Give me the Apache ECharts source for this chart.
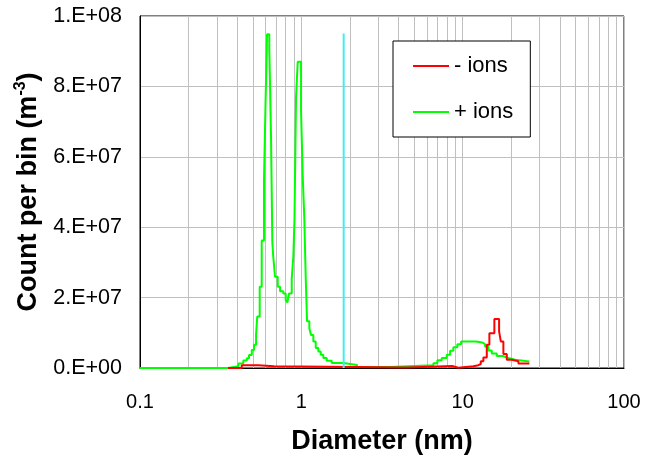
<!DOCTYPE html>
<html>
<head>
<meta charset="utf-8">
<script src="https://cdn.jsdelivr.net/npm/echarts@6/dist/echarts.min.js"></script>
<style>
html,body{margin:0;padding:0;background:#fff;}
#chart{width:645px;height:460px;}
</style>
</head>
<body>
<div id="chart"></div>
<script>
// ---- data ----
// step points: [diameter nm, count per bin] — value holds until next point
const plusIons = [
  [0.1, 0], [0.351, 4.8e5], [0.407, 1.3e6], [0.437, 2.1e6], [0.459, 2.8e6],
  [0.474, 3.7e6], [0.493, 5.1e6], [0.509, 6.6e6], [0.524, 9.4e6], [0.533, 1.46e7],
  [0.552, 2.31e7], [0.568, 3.62e7], [0.587, 5.34e7], [0.600, 7.53e7], [0.613, 9.48e7],
  [0.633, 9.10e7], [0.649, 6.55e7], [0.661, 3.58e7], [0.670, 3.16e7], [0.687, 2.59e7],
  [0.714, 2.31e7], [0.738, 2.18e7], [0.773, 2.12e7], [0.800, 1.93e7], [0.819, 1.86e7],
  [0.839, 2.12e7], [0.872, 2.54e7], [0.892, 3.16e7], [0.907, 4.24e7], [0.927, 7.68e7],
  [0.950, 8.70e7], [0.996, 7.29e7], [1.020, 5.45e7], [1.044, 4.21e7], [1.065, 2.54e7],
  [1.085, 1.33e7], [1.121, 1.13e7], [1.148, 9.4e6], [1.187, 7.5e6], [1.228, 5.65e6],
  [1.275, 4.7e6], [1.319, 3.76e6], [1.369, 2.83e6], [1.437, 2.06e6], [1.543, 1.41e6],
  [1.822, 8.5e5], [2.215, 2.8e5], [3.513, 7.6e5], [6.584, 1.33e6], [6.969, 2.18e6],
  [7.420, 2.83e6], [7.969, 3.76e6], [8.354, 4.89e6], [8.758, 5.93e6], [9.271, 6.78e6],
  [9.775, 7.54e6], [12.11, 7.26e6], [13.19, 6.78e6], [13.77, 6.13e6], [14.43, 4.94e6],
  [15.15, 4.10e6], [16.27, 3.39e6], [17.88, 2.83e6], [19.20, 2.34e6], [21.13, 1.84e6],
  [25.92, 1.84e6]
];
const minusIons = [
  [0.351, 0], [0.427, 7.6e5], [0.541, 4.8e5], [0.677, 1.4e5], [4.50, 5.6e5],
  [8.60, 6e4], [9.40, 5.0e5], [11.65, 8e5], [12.52, 1.13e6], [12.95, 1.89e6],
  [13.44, 2.97e6], [14.11, 6.58e6], [14.64, 9.89e6], [15.72, 1.39e7], [16.82, 1.04e7],
  [17.23, 7.54e6], [17.88, 3.96e6], [18.77, 2.34e6], [20.16, 1.89e6], [22.15, 1.27e6],
  [25.92, 1.27e6]
];
const cutLine = [[1.83, 0], [1.83, 9.5e7]];
const seriesNames = ['- ions', '+ ions'];
const xTickLabels = ['0.1', '1', '10', '100'];
const yTickLabels = ['0.E+00', '2.E+07', '4.E+07', '6.E+07', '8.E+07', '1.E+08'];
const decades = [0.1, 1, 10];
const minorMultipliers = [2, 3, 4, 5, 6, 7, 8, 9];

// ---- chart ----
const FONT = '"Liberation Sans", Arial, sans-serif';
const minorGrid = [];
decades.forEach(d => minorMultipliers.forEach(m => minorGrid.push({ xAxis: +(d * m).toPrecision(3) })));

const chart = echarts.init(document.getElementById('chart'), null, { renderer: 'canvas' });
chart.setOption({
  animation: false,
  backgroundColor: '#fff',
  textStyle: { fontFamily: FONT },
  grid: {
    left: 140, top: 16, right: 21, bottom: 90,
    show: true, borderColor: '#000', borderWidth: 1, backgroundColor: 'transparent'
  },
  legend: {
    data: seriesNames,
    orient: 'vertical',
    left: 393, top: 41,
    padding: [14, 17, 14, 20],
    itemGap: 24,
    itemWidth: 36, itemHeight: 2,
    icon: 'rect',
    borderColor: '#000', borderWidth: 1,
    backgroundColor: '#fff',
    textStyle: { fontSize: 22, color: '#000', fontFamily: FONT }
  },
  xAxis: {
    type: 'log', logBase: 10, min: 0.1, max: 100,
    name: 'Diameter (nm)', nameLocation: 'middle', nameGap: 60,
    nameTextStyle: { fontSize: 27, fontWeight: 'bold', color: '#000', fontFamily: FONT },
    axisLine: { show: true, lineStyle: { color: '#000', width: 1 } },
    axisTick: { show: false },
    axisLabel: {
      fontSize: 20, color: '#000', margin: 24, fontFamily: FONT,
      formatter: v => xTickLabels[Math.round(Math.log10(v)) + 1]
    },
    splitLine: { show: true, lineStyle: { color: '#c0c0c0', width: 1 } }
  },
  yAxis: {
    type: 'value', min: 0, max: 1e8, interval: 2e7,
    name: '{b|Count per bin (m}{s|-3}{b|)}', nameLocation: 'middle', nameGap: 92, nameRotate: 90,
    nameTextStyle: {
      color: '#000', fontFamily: FONT,
      rich: {
        b: { fontSize: 27, fontWeight: 'bold', color: '#000', fontFamily: FONT, lineHeight: 32 },
        s: { fontSize: 16, fontWeight: 'bold', color: '#000', fontFamily: FONT, verticalAlign: 'top', lineHeight: 32, padding: [0, 0, 12, 0] }
      }
    },
    axisLine: { show: true, lineStyle: { color: '#000', width: 1 } },
    axisTick: { show: false },
    axisLabel: {
      fontSize: 21.5, color: '#000', margin: 18, fontFamily: FONT,
      formatter: v => yTickLabels[Math.round(v / 2e7)]
    },
    splitLine: { show: true, lineStyle: { color: '#c0c0c0', width: 1 } }
  },
  series: [
    {
      name: 'grid', type: 'line', data: [], silent: true, z: 1,
      markLine: {
        z: 1, silent: true, symbol: ['none', 'none'], label: { show: false },
        lineStyle: { color: '#c0c0c0', width: 1, type: 'solid' },
        emphasis: { disabled: true },
        data: minorGrid
      }
    },
    {
      name: seriesNames[1], type: 'line', step: 'end', data: plusIons, symbol: 'none', z: 3,
      lineStyle: { color: '#00ff00', width: 2 }, itemStyle: { color: '#00ff00' }
    },
    {
      name: seriesNames[0], type: 'line', step: 'end', data: minusIons, symbol: 'none', z: 4,
      lineStyle: { color: '#ff0000', width: 2 }, itemStyle: { color: '#ff0000' }
    },
    {
      name: 'cut', type: 'line', data: cutLine, symbol: 'none', z: 5,
      lineStyle: { color: '#40eef0', width: 2 }, itemStyle: { color: '#40eef0' }
    }
  ]
});
</script>
</body>
</html>
